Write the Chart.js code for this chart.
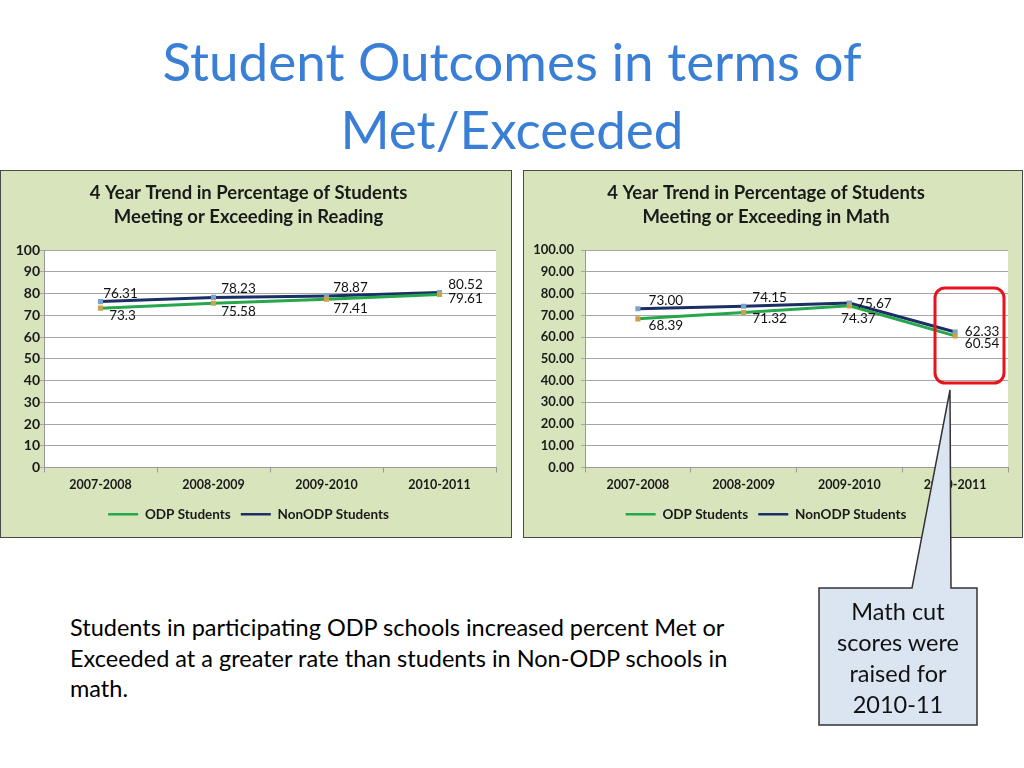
<!DOCTYPE html>
<html lang="en">
<head>
    <meta charset="UTF-8">
    <title>Student Outcomes</title>
    <script src="https://cdn.jsdelivr.net/npm/chart.js@4.4.0/dist/chart.umd.min.js"></script>
    <style>
        body {
            margin: 0;
            width: 1024px;
            height: 768px;
            position: relative;
            background: #fff;
            font-family: Lato, "Open Sans", sans-serif;
            overflow: hidden;
        }

        .title {
            position: absolute;
            left: 0;
            top: 27px;
            width: 1024px;
            text-align: center;
            color: #3a7fd6;
            font-size: 53px;
            line-height: 68px;
        }

        .box {
            position: absolute;
            top: 170px;
            height: 366px;
            background: #d8e4bc;
            border: 1px solid #4a4a4a;
        }

        .box canvas {
            display: block;
        }

        .note {
            position: absolute;
            left: 70px;
            top: 612px;
            font-size: 23.5px;
            line-height: 30.5px;
            color: #000;
            width: 720px;
        }

        .callout-text {
            position: absolute;
            left: 819px;
            top: 596px;
            width: 158px;
            text-align: center;
            font-size: 23.5px;
            line-height: 31px;
            color: #111;
        }

        svg.overlay {
            position: absolute;
            left: 0;
            top: 0;
        }
    </style>
</head>
<body>

<div class="title">Student Outcomes in terms of<br>Met/Exceeded</div>

<div class="box" style="left:0;width:510px;">
    <canvas id="reading" width="510" height="366"></canvas>
</div>
<div class="box" style="left:523px;width:498px;">
    <canvas id="math" width="498" height="366"></canvas>
</div>

<div class="note">Students in participating ODP schools increased percent Met or<br>Exceeded at a greater rate than students in Non-ODP schools in<br>math.</div>

<svg class="overlay" width="1024" height="768">
    <rect x="935" y="288" width="69" height="95" rx="10" ry="10" fill="none" stroke="#e8141c" stroke-width="3"/>
    <path d="M819,588 L912,588 L950,390 L951,588 L977,588 L977,725 L819,725 Z"
          fill="#dbe5f1" stroke="#333" stroke-width="1.5"/>
</svg>
<div class="callout-text">Math cut<br>scores were<br>raised for<br>2010-11</div>

<script>
    var years = ["2007-2008", "2008-2009", "2009-2010", "2010-2011"];
    var seriesNames = ["ODP Students", "NonODP Students"];

    var readingODP = [73.3, 75.58, 77.41, 79.61];
    var readingNonODP = [76.31, 78.23, 78.87, 80.52];
    var mathODP = [68.39, 71.32, 74.37, 60.54];
    var mathNonODP = [73.00, 74.15, 75.67, 62.33];

    var yTicks = [0, 10, 20, 30, 40, 50, 60, 70, 80, 90, 100];

    // label offsets from each point (dx, dy)
    var readingOdpOff = [[22, 7], [25, 8], [24, 9], [26, 4]];
    var readingNonOff = [[20, -8], [25, -9], [24, -8], [26, -8]];
    var mathOdpOff = [[28, 7], [26, 6], [9, 13], [27, 8]];
    var mathNonOff = [[28, -8], [26, -9], [25, 1], [27, 0]];

    var FONT = "Lato, 'Open Sans', sans-serif";

    var plotBg = {
        id: 'plotBg',
        beforeDraw: function (chart) {
            var a = chart.chartArea;
            var ctx = chart.ctx;
            ctx.save();
            ctx.fillStyle = '#ffffff';
            ctx.fillRect(a.left, a.top, a.right - a.left, a.bottom - a.top);
            ctx.restore();
        }
    };

    var pointLabels = {
        id: 'pointLabels',
        afterDatasetsDraw: function (chart, args, opts) {
            var ctx = chart.ctx;
            ctx.save();
            ctx.font = '13.5px ' + FONT;
            ctx.fillStyle = '#111';
            ctx.textAlign = 'center';
            ctx.textBaseline = 'middle';
            chart.data.datasets.forEach(function (ds, i) {
                var meta = chart.getDatasetMeta(i);
                var offs = opts.offsets[i];
                meta.data.forEach(function (pt, j) {
                    var v = ds.data[j];
                    var txt = opts.decimals == null ? String(v) : v.toFixed(opts.decimals);
                    ctx.fillText(txt, pt.x + offs[j][0], pt.y + offs[j][1]);
                });
            });
            ctx.restore();
        }
    };

    function legendLabels(chart) {
        var items = Chart.defaults.plugins.legend.labels.generateLabels(chart);
        items.forEach(function (it) {
            var ds = chart.data.datasets[it.datasetIndex];
            it.strokeStyle = ds.borderColor;
            it.fillStyle = ds.borderColor;
            it.lineWidth = 2.5;
            it.pointStyle = 'line';
        });
        return items;
    }

    function makeChart(id, subject, odp, non, decimals, yWidth, rightPad, offsets) {
        var ctx = document.getElementById(id).getContext('2d');
        return new Chart(ctx, {
            type: 'line',
            data: {
                labels: years,
                datasets: [{
                    label: seriesNames[0],
                    data: odp,
                    borderColor: '#27a74b',
                    backgroundColor: '#c9a24a',
                    pointBorderColor: '#c9a24a',
                    pointStyle: 'rect',
                    pointRadius: 1.5,
                    borderWidth: 3,
                    tension: 0
                }, {
                    label: seriesNames[1],
                    data: non,
                    borderColor: '#1b2f66',
                    backgroundColor: '#7da3cc',
                    pointBorderColor: '#7da3cc',
                    pointStyle: 'rect',
                    pointRadius: 1.5,
                    borderWidth: 3,
                    tension: 0
                }]
            },
            options: {
                responsive: false,
                animation: false,
                layout: {padding: {left: 0, right: rightPad, top: 0, bottom: 6}},
                plugins: {
                    title: {
                        display: true,
                        text: ['4 Year Trend in Percentage of Students', 'Meeting or Exceeding in ' + subject],
                        color: '#1a1a1a',
                        font: {family: FONT, size: 18.5, weight: 'bold', lineHeight: 1.3},
                        padding: {top: 10, bottom: 21}
                    },
                    legend: {
                        position: 'bottom',
                        labels: {
                            usePointStyle: true,
                            pointStyleWidth: 30,
                            generateLabels: legendLabels,
                            color: '#1a1a1a',
                            font: {family: FONT, size: 13.5, weight: 'bold'},
                            padding: 10
                        }
                    },
                    tooltip: {enabled: false},
                    pointLabels: {decimals: decimals, offsets: offsets}
                },
                scales: {
                    x: {
                        offset: true,
                        grid: {
                            offset: true,
                            drawOnChartArea: false,
                            drawTicks: true,
                            tickLength: 5,
                            color: '#999'
                        },
                        border: {color: '#999'},
                        ticks: {
                            color: '#1a1a1a',
                            font: {family: FONT, size: 12.5, weight: 'bold'},
                            padding: 5,
                            maxRotation: 0
                        }
                    },
                    y: {
                        min: 0,
                        max: 100,
                        afterBuildTicks: function (scale) {
                            scale.ticks = yTicks.map(function (v) { return {value: v}; });
                        },
                        afterFit: function (scale) {
                            scale.width = yWidth;
                        },
                        grid: {color: '#a6a6a6', tickLength: 4},
                        border: {color: '#999'},
                        ticks: {
                            color: '#1a1a1a',
                            font: {family: FONT, size: decimals == null ? 14 : 13, weight: 'bold'},
                            padding: decimals == null ? 0 : 7,
                            callback: function (v) {
                                return decimals == null ? v : v.toFixed(2);
                            }
                        }
                    }
                }
            },
            plugins: [plotBg, pointLabels]
        });
    }

    makeChart('reading', 'Reading', readingODP, readingNonODP, null, 43, 15,
        [readingOdpOff, readingNonOff]);
    makeChart('math', 'Math', mathODP, mathNonODP, 2, 61, 14,
        [mathOdpOff, mathNonOff]);
</script>
</body>
</html>
